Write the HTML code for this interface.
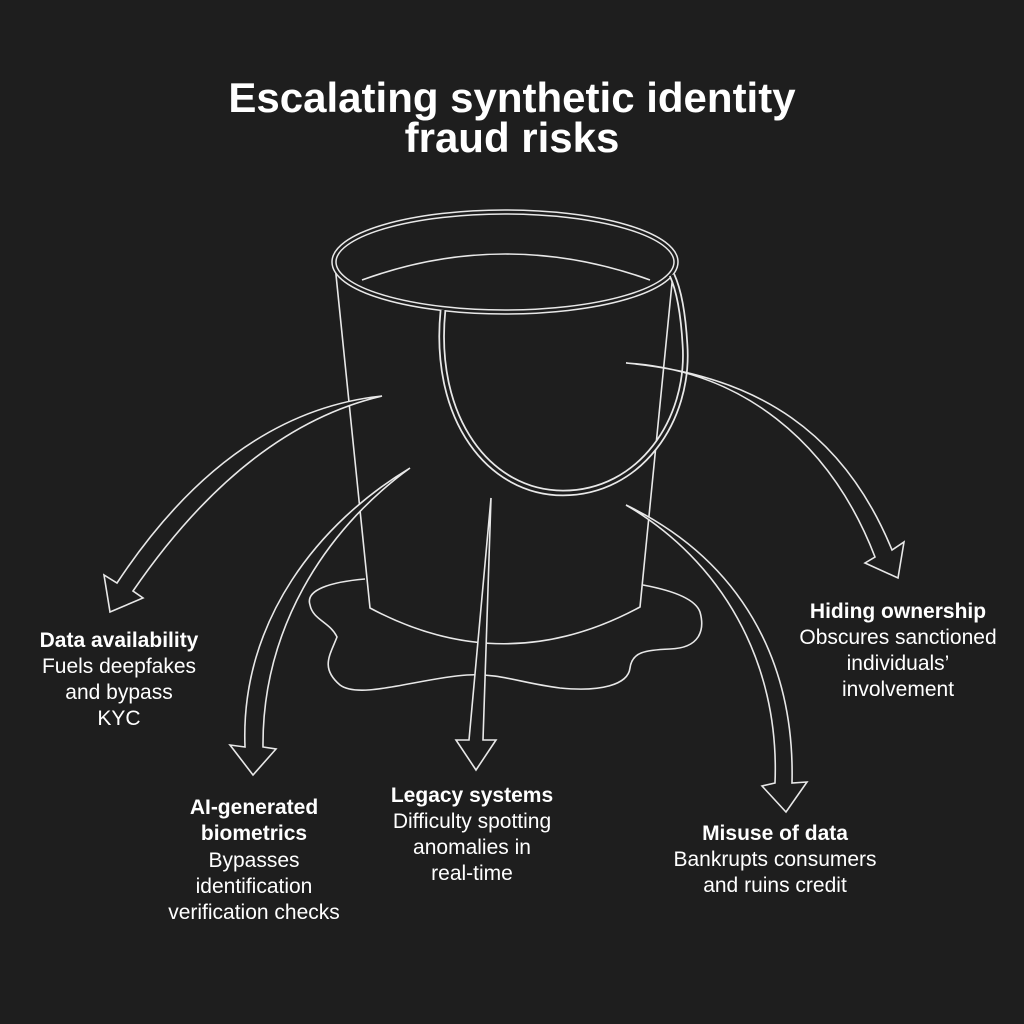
<!DOCTYPE html>
<html><head><meta charset="utf-8"><style>
html,body{margin:0;padding:0;background:#1e1e1e;}
svg{display:block}
text{font-family:"Liberation Sans",sans-serif;fill:#fff}
</style></head><body>
<svg width="1024" height="1024" viewBox="0 0 1024 1024">
<rect width="1024" height="1024" fill="#1e1e1e"/>
<g fill="none" stroke="#e8e8e8" stroke-width="1.6" stroke-linejoin="round">
<path d="M365,579 C330,582 305,590 310,605 C313,620 330,622 337,637 C330,655 320,668 340,685 C360,700 420,678 467,675 C500,673 520,683 560,688 C600,692 628,685 630,668 C632,652 645,650 670,649 C700,648 705,630 700,612 C695,598 670,590 643,585"/>
<path d="M335,265 L370,608 Q505,680 640,607 L673,273" fill="#1e1e1e"/>
</g>
<ellipse cx="505" cy="262" rx="171" ry="50" fill="none" stroke="#e8e8e8" stroke-width="5.5"/>
<ellipse cx="505" cy="262" rx="171" ry="50" fill="none" stroke="#1e1e1e" stroke-width="2.5"/>
<path d="M362,280 Q505,228 650,280" fill="none" stroke="#e8e8e8" stroke-width="1.6"/>
<path d="M443,310 C432,420 490,493 563,493 C640,493 690,420 685,345 C683,310 678,288 672,275" fill="none" stroke="#e8e8e8" stroke-width="6.5"/>
<path d="M443,310 C432,420 490,493 563,493 C640,493 690,420 685,345 C683,310 678,288 672,275" fill="none" stroke="#1e1e1e" stroke-width="3"/>
<g fill="#1e1e1e" stroke="#e8e8e8" stroke-width="1.6" stroke-linejoin="miter">
<path d="M382,396 Q230,412 117,583 L104,575 L110,612 L143,598 L133,591 Q245,428 382,396 Z"/>
<path d="M410,468 C320,522 240,620 245,747 L230,745 L253,775 L276,749 L263,747 C262,632 322,532 410,468 Z"/>
<path d="M491,498 L469,740 L456,740 L476,770 L496,740 L483,740 Z"/>
<path d="M626,505 C720,560 780,660 775,783 L762,786 L786,812 L807,782 L792,783 C795,660 740,560 626,505 Z"/>
<path d="M626,363 C740,370 830,440 875,557 L865,563 L898,578 L904,542 L892,550 C845,435 760,375 626,363 Z"/>
</g>
<text x="512" y="112" text-anchor="middle" font-size="42" font-weight="bold">Escalating synthetic identity</text>
<text x="512" y="152" text-anchor="middle" font-size="42" font-weight="bold">fraud risks</text>
<g font-size="21" text-anchor="middle">
<text x="119" y="647" font-weight="bold">Data availability</text>
<text x="119" y="673">Fuels deepfakes</text>
<text x="119" y="699">and bypass</text>
<text x="119" y="725">KYC</text>

<text x="254" y="814" font-weight="bold">AI-generated</text>
<text x="254" y="840" font-weight="bold">biometrics</text>
<text x="254" y="867">Bypasses</text>
<text x="254" y="893">identification</text>
<text x="254" y="919">verification checks</text>

<text x="472" y="802" font-weight="bold">Legacy systems</text>
<text x="472" y="828">Difficulty spotting</text>
<text x="472" y="854">anomalies in</text>
<text x="472" y="880">real-time</text>

<text x="775" y="840" font-weight="bold">Misuse of data</text>
<text x="775" y="866">Bankrupts consumers</text>
<text x="775" y="892">and ruins credit</text>

<text x="898" y="618" font-weight="bold">Hiding ownership</text>
<text x="898" y="644">Obscures sanctioned</text>
<text x="898" y="670">individuals’</text>
<text x="898" y="696">involvement</text>
</g>
</svg>
</body></html>
